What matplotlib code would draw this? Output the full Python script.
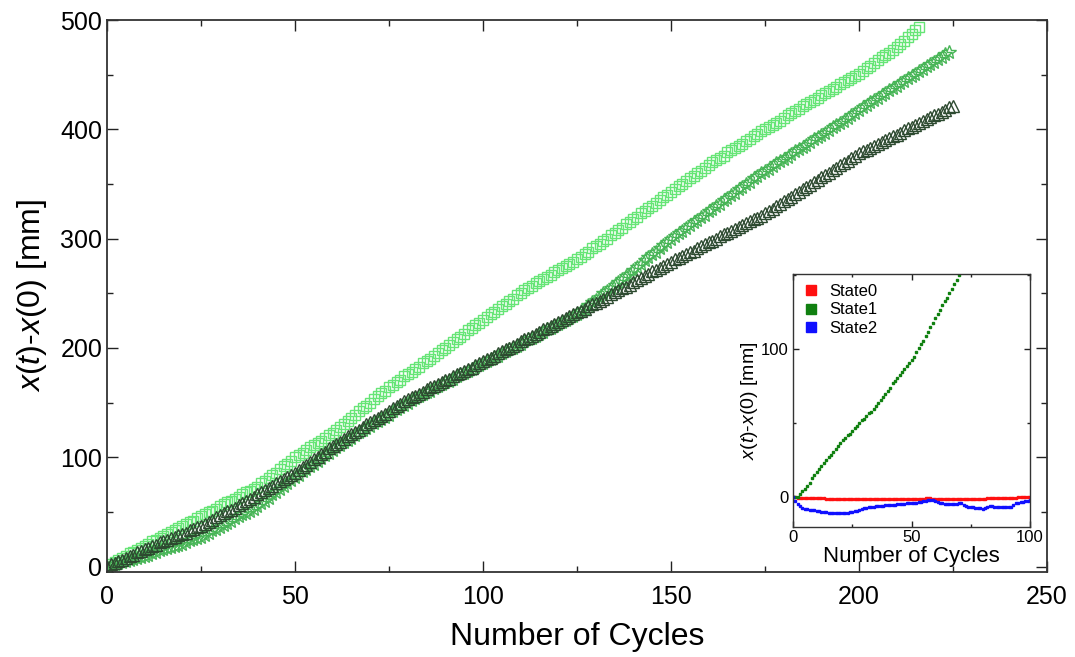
import numpy as np
import matplotlib.pyplot as plt
from matplotlib.ticker import MultipleLocator

plt.rcParams['font.family'] = ['Liberation Sans', 'DejaVu Sans']
plt.rcParams['mathtext.fontset'] = 'custom'
plt.rcParams['mathtext.it'] = 'Liberation Sans:italic'
plt.rcParams['mathtext.rm'] = 'Liberation Sans'

# displacement per cycle [mm], three runs
disp_sq = [0, 2, 4, 6, 8, 10, 12, 13, 15, 17, 19,
           21, 23, 24, 26, 28, 30, 32, 33, 35, 37, 39, 41, 42, 44, 46,
           48, 50, 51, 53, 55, 57, 59, 60, 62, 64, 66, 68, 69, 71, 73,
           76, 78, 81, 84, 86, 89, 92, 94, 97, 100,
           102, 104, 107, 109, 111, 113, 115, 118, 120, 122,
           125, 128, 130, 133, 136, 139, 142, 145, 147, 150, 153, 156, 159, 161, 164,
           166, 169, 171, 174, 176, 178, 181, 183, 186, 188, 190, 193, 195, 198, 200,
           203, 205, 208, 210, 213, 216, 218, 221, 223, 226,
           228, 231, 233, 236, 238, 240, 243, 245, 248, 250, 253, 255,
           257, 259, 261, 263, 265, 267, 269, 271, 273, 275, 277, 279, 281,
           283, 286, 288, 291, 293, 295, 298, 300, 303, 305, 308, 310,
           313, 315, 318, 320, 323, 325, 328, 330, 333, 335, 338, 340, 343,
           345, 348, 350, 353, 355, 357, 360, 362, 365, 367, 370, 372,
           374, 376, 379, 381, 383, 385, 387, 389, 391, 394, 396, 398, 400,
           402, 404, 406, 408, 410, 413, 415, 417, 419, 421, 423, 425,
           427, 429, 431, 433, 435, 437, 439, 441, 443, 445, 447, 449, 451,
           453, 456, 458, 461, 463, 466, 468, 470, 473, 475,
           478, 481, 484, 487, 491, 494]

disp_star = [0, 1, 2, 3, 4, 5, 6, 7, 8, 9, 10,
             11, 12, 13, 15, 16, 17, 18, 19, 20, 21, 22, 24, 25, 26, 27,
             29, 31, 33, 34, 36, 38, 40, 42, 44, 46, 48, 49, 51, 53, 55,
             58, 60, 63, 66, 68, 71, 74, 76, 79, 82,
             84, 87, 89, 92, 94, 97, 99, 102, 104, 107,
             109, 111, 114, 116, 118, 120, 123, 125, 127, 129,
             131, 133, 135, 137, 139, 142, 144, 146, 148, 150,
             152, 154, 156, 158, 160, 161, 163, 165, 167, 169,
             170, 172, 174, 176, 177, 179, 181, 183, 184, 186,
             188, 190, 192, 193, 195, 197, 199, 200, 202, 204,
             206, 208, 209, 211, 213, 215, 217, 218, 220, 222,
             224, 226, 227, 229, 231,
             234, 236, 239, 242, 244, 247, 250, 252, 255, 258, 260, 263, 266, 268,
             271, 274, 277, 280, 283, 286, 288, 291, 294, 297, 300,
             302, 305, 307, 310, 312, 315, 317, 320, 322, 325, 327, 330, 332, 335,
             337, 340, 342, 345, 347, 350, 352, 355, 357, 360, 362,
             364, 366, 369, 371, 373, 375, 377, 380, 382, 384, 386, 388, 391, 393,
             395, 397, 399, 402, 404, 406, 408, 410, 413, 415, 418,
             420, 422, 425, 427, 429, 431, 433, 436, 438, 440, 442, 444, 447, 449,
             451, 453, 455, 458, 460, 462, 464, 466, 469, 471]

disp_tri = [0, 2, 3, 5, 6, 8, 10, 11, 13, 14, 16,
            17, 19, 20, 22, 23, 24, 26, 27, 29, 30, 31, 33, 34, 36, 37,
            39, 41, 43, 45, 47, 49, 51, 52, 54, 56, 58, 60, 62, 64, 66,
            68, 70, 72, 74, 76, 78, 80, 82, 84, 86,
            88, 91, 93, 96, 98, 100, 103, 105, 108, 110,
            112, 114, 117, 119, 121, 123, 125, 128, 130, 132,
            134, 136, 138, 140, 142, 145, 147, 149, 151, 153,
            155, 156, 158, 160, 162, 164, 165, 167, 169, 171,
            172, 174, 176, 177, 179, 181, 182, 184, 186, 188,
            190, 191, 193, 195, 197, 199, 200, 202, 204, 206,
            208, 209, 211, 213, 215, 217, 218, 220, 222, 224,
            226, 227, 229, 231, 233,
            234, 236, 238, 240, 241, 243, 245, 247, 249, 251, 253, 255, 256, 258,
            260, 262, 264, 266, 268, 270, 271, 273, 275, 277, 279,
            281, 282, 284, 286, 288, 289, 291, 293, 295, 297, 298, 300, 302, 304,
            305, 307, 309, 311, 312, 314, 316, 318, 319, 321, 323,
            325, 327, 330, 332, 334, 336, 338, 341, 343, 345, 347, 349, 352, 354,
            356, 358, 360, 363, 365, 367, 369, 371, 374, 376, 378,
            380, 381, 383, 385, 387, 388, 390, 392, 394, 395, 397, 399, 401, 402,
            404, 406, 408, 409, 411, 413, 414, 416, 418, 420, 421]

# inset: single-state runs over 100 cycles
state0 = [0, 0, -0.1, -0.2, -0.2, -0.3, -0.4, -0.4, -0.5, -0.5,
          -0.6, -0.6, -0.7, -0.7, -0.8, -0.8, -0.9, -0.9, -1.0, -1.0,
          -1.0, -1.1, -1.1, -1.1, -1.2, -1.2, -1.2, -1.3, -1.3, -1.3,
          -1.3, -1.4, -1.4, -1.4, -1.4, -1.3, -1.4, -1.4, -1.4, -1.3,
          -1.3, -1.3, -1.3, -1.4, -1.4, -1.3, -1.3, -1.2, -1.2, -1.1,
          -1.1, -1.0, -1.0, -0.9, -0.9, -0.8, -0.7, -0.6, -0.7, -0.8,
          -0.9, -1.0, -1.1, -1.2, -1.2, -1.3, -1.3, -1.3, -1.3, -1.3,
          -1.3, -1.3, -1.3, -1.3, -1.3, -1.2, -1.2, -1.1, -1.1, -1.0,
          -0.9, -0.8, -0.7, -0.6, -0.6, -0.5, -0.5, -0.4, -0.4, -0.3,
          -0.3, -0.2, -0.2, -0.1, -0.1, 0.0, 0.1, 0.2, 0.3, 0.4, 0.5]

state1 = [0, 0, 0, 2, 4, 6, 8, 10, 13, 15, 17, 19, 21, 23, 25, 27, 29, 31, 33, 35, 37,
          39, 40, 42, 43, 45, 47, 48, 50, 52, 53, 55, 57, 58, 60,
          62, 64, 66, 68, 70, 72, 74, 77, 79, 81, 83, 85, 87, 89, 91, 93, 95,
          98, 101, 104, 106, 109, 112, 115, 118, 121, 124, 127, 130, 133, 135,
          138, 141, 144, 147, 150, 153, 156]

state2 = [0, -2.5, -4.5, -6.0, -7.2, -7.8, -8.1, -8.4, -8.6, -8.8,
          -9.1, -9.4, -9.7, -9.9, -10.1, -10.3, -10.4, -10.5, -10.4, -10.5,
          -10.4, -10.5, -10.4, -10.3, -10.1, -9.8, -9.4, -8.9, -8.3, -7.8,
          -7.3, -7.0, -6.8, -6.5, -6.2, -6.0, -5.8, -5.9, -5.6, -5.3,
          -5.2, -5.0, -5.1, -4.8, -4.7, -4.5, -4.3, -4.4, -4.1, -3.9,
          -3.7, -3.5, -3.6, -3.2, -3.0, -2.7, -2.4, -2.0, -1.7, -1.6,
          -2.3, -3.1, -3.8, -4.1, -4.3, -4.5, -4.6, -4.7, -4.6, -4.3,
          -4.0, -3.8, -4.8, -6.0, -6.5, -6.7, -6.8, -7.0, -7.1, -7.2,
          -7.9, -7.4, -6.6, -5.8, -6.0, -6.2, -6.4, -6.5, -6.5, -6.6,
          -6.5, -6.6, -6.3, -5.2, -3.8, -3.5, -3.0, -2.8, -2.5, -2.2, -2.0]


def style_axes(ax, size, major, minor):
    ax.tick_params(which='both', direction='in', top=True, right=True,
                   labelsize=size, width=1.0, color='#222222')
    ax.tick_params(which='major', length=major)
    ax.tick_params(which='minor', length=minor)
    for s in ax.spines.values():
        s.set_linewidth(1.3)
        s.set_color('#333333')


fig = plt.figure(figsize=(10.75, 6.57), dpi=100)
ax = fig.add_axes([107/1075, 1-572/657, 940/1075, 552/657])

ax.plot(np.arange(len(disp_sq)), disp_sq, linestyle='none', marker='s',
        markersize=7.5, markerfacecolor='none', markeredgecolor='#66e576',
        markeredgewidth=1.0)
ax.plot(np.arange(len(disp_star)), disp_star, linestyle='none', marker='*',
        markersize=10, markerfacecolor='none', markeredgecolor='#47b556',
        markeredgewidth=1.0)
ax.plot(np.arange(len(disp_tri)), disp_tri, linestyle='none', marker='^',
        markersize=8, markerfacecolor='none', markeredgecolor='#2d4a30',
        markeredgewidth=1.0)

ax.set_xlim(0, 250)
ax.set_ylim(-5, 500)
ax.xaxis.set_major_locator(MultipleLocator(50))
ax.xaxis.set_minor_locator(MultipleLocator(25))
ax.yaxis.set_major_locator(MultipleLocator(100))
ax.yaxis.set_minor_locator(MultipleLocator(50))
style_axes(ax, 18, 8, 4)
ax.tick_params(axis='x', pad=9)
ax.set_xlabel('Number of Cycles', fontsize=23, labelpad=10)
ax.set_ylabel(r'$\mathit{x(t)}$-$\mathit{x(0)}$ [mm]', fontsize=23, labelpad=8)

# inset with the single-state runs
axi = fig.add_axes([793/1075, 1-527/657, 237/1075, 253/657])
axi.plot(np.arange(len(state0)), state0, linestyle='none', marker='s',
         markersize=2, color='#ff1010', label='State0')
axi.plot(np.arange(len(state1)), state1, linestyle='none', marker='s',
         markersize=2, color='#108010', label='State1')
axi.plot(np.arange(len(state2)), state2, linestyle='none', marker='s',
         markersize=2, color='#1010ff', label='State2')
axi.set_xlim(0, 100)
axi.set_ylim(-20, 151)
axi.xaxis.set_major_locator(MultipleLocator(50))
axi.xaxis.set_minor_locator(MultipleLocator(25))
axi.yaxis.set_major_locator(MultipleLocator(100))
axi.yaxis.set_minor_locator(MultipleLocator(50))
style_axes(axi, 12, 4, 2)
for s in axi.spines.values():
    s.set_linewidth(1.0)
axi.tick_params(axis='x', pad=2)
axi.set_xlabel('Number of Cycles', fontsize=16, labelpad=1)
axi.set_ylabel(r'$\mathit{x(t)}$-$\mathit{x(0)}$ [mm]', fontsize=14, labelpad=0)
axi.legend(loc='upper left', frameon=False, fontsize=12, markerscale=3.5,
           handlelength=1.0, handletextpad=0.6, borderaxespad=0.2,
           labelspacing=0.2)

fig.savefig('out.png', dpi=100)
